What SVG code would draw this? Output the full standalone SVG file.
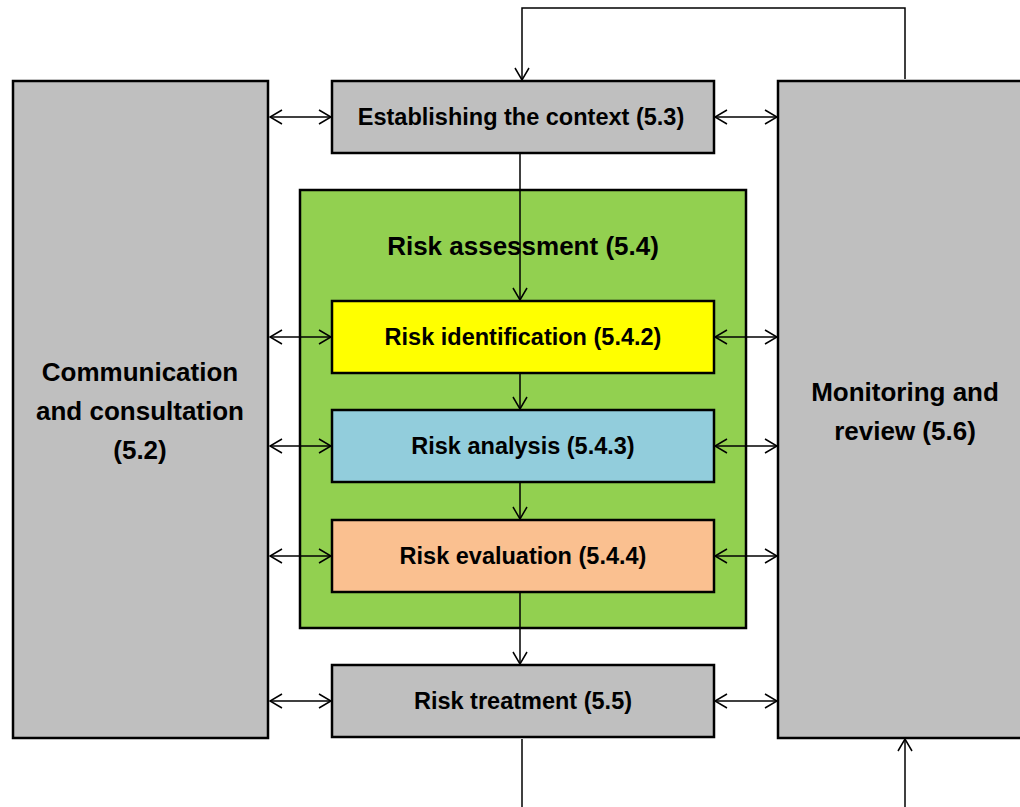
<svg xmlns="http://www.w3.org/2000/svg" width="1020" height="807" viewBox="0 0 1020 807">
<style>
.box{stroke:#000;stroke-width:2.5}
.gray{fill:#BFBFBF}
.t{font-family:"Liberation Sans",Arial,sans-serif;font-weight:bold;font-size:23.5px;fill:#000;text-anchor:middle;dominant-baseline:central}
.big{font-size:26px}
.c{fill:none;stroke:#000;stroke-width:1.5}
</style>
<defs>
<marker id="ah" viewBox="0 0 14 16" refX="13" refY="8" markerWidth="14" markerHeight="16" markerUnits="userSpaceOnUse" orient="auto-start-reverse">
<path d="M1,1 L13,8 L1,15" fill="none" stroke="#000" stroke-width="1.5"/>
</marker>
</defs>
<rect width="1020" height="807" fill="#fff"/>
<g id="comm">
<rect class="box gray" x="13" y="81" width="255" height="657"/>
<text class="t big" x="140" y="372">Communication</text>
<text class="t big" x="140" y="411">and consultation</text>
<text class="t big" x="140" y="450">(5.2)</text>
</g>
<g id="monitor">
<rect class="box gray" x="778" y="81" width="260" height="657"/>
<text class="t big" x="905" y="392">Monitoring and</text>
<text class="t big" x="905" y="431">review (5.6)</text>
</g>
<g id="assessment">
<rect class="box" fill="#92D050" x="300" y="190" width="446" height="438"/>
<text class="t big" x="523" y="246">Risk assessment (5.4)</text>
</g>
<g id="context">
<rect class="box gray" x="332" y="81" width="382" height="72"/>
<text class="t" x="521" y="117">Establishing the context (5.3)</text>
</g>
<g id="identification">
<rect class="box" fill="#FFFF00" x="332" y="301" width="382" height="72"/>
<text class="t" x="523" y="337">Risk identification (5.4.2)</text>
</g>
<g id="analysis">
<rect class="box" fill="#92CDDC" x="332" y="410" width="382" height="72"/>
<text class="t" x="523" y="446">Risk analysis (5.4.3)</text>
</g>
<g id="evaluation">
<rect class="box" fill="#FAC090" x="332" y="520" width="382" height="72"/>
<text class="t" x="523" y="556">Risk evaluation (5.4.4)</text>
</g>
<g id="treatment">
<rect class="box gray" x="332" y="665" width="382" height="72"/>
<text class="t" x="523" y="701">Risk treatment (5.5)</text>
</g>
<g id="connectors">
<path class="c" d="M905,79 V8 H522 V80" marker-end="url(#ah)"/>
<path class="c" d="M520,154 V300" marker-end="url(#ah)"/>
<path class="c" d="M520,374 V409" marker-end="url(#ah)"/>
<path class="c" d="M520,483 V519" marker-end="url(#ah)"/>
<path class="c" d="M520,593 V664" marker-end="url(#ah)"/>
<path class="c" d="M522,739 V807"/>
<path class="c" d="M905,807 V739" marker-end="url(#ah)"/>
<path class="c" d="M270,117 H331" marker-start="url(#ah)" marker-end="url(#ah)"/>
<path class="c" d="M270,337 H331" marker-start="url(#ah)" marker-end="url(#ah)"/>
<path class="c" d="M270,446 H331" marker-start="url(#ah)" marker-end="url(#ah)"/>
<path class="c" d="M270,556 H331" marker-start="url(#ah)" marker-end="url(#ah)"/>
<path class="c" d="M270,701 H331" marker-start="url(#ah)" marker-end="url(#ah)"/>
<path class="c" d="M715,117 H777" marker-start="url(#ah)" marker-end="url(#ah)"/>
<path class="c" d="M715,337 H777" marker-start="url(#ah)" marker-end="url(#ah)"/>
<path class="c" d="M715,446 H777" marker-start="url(#ah)" marker-end="url(#ah)"/>
<path class="c" d="M715,556 H777" marker-start="url(#ah)" marker-end="url(#ah)"/>
<path class="c" d="M715,701 H777" marker-start="url(#ah)" marker-end="url(#ah)"/>
</g>
</svg>
